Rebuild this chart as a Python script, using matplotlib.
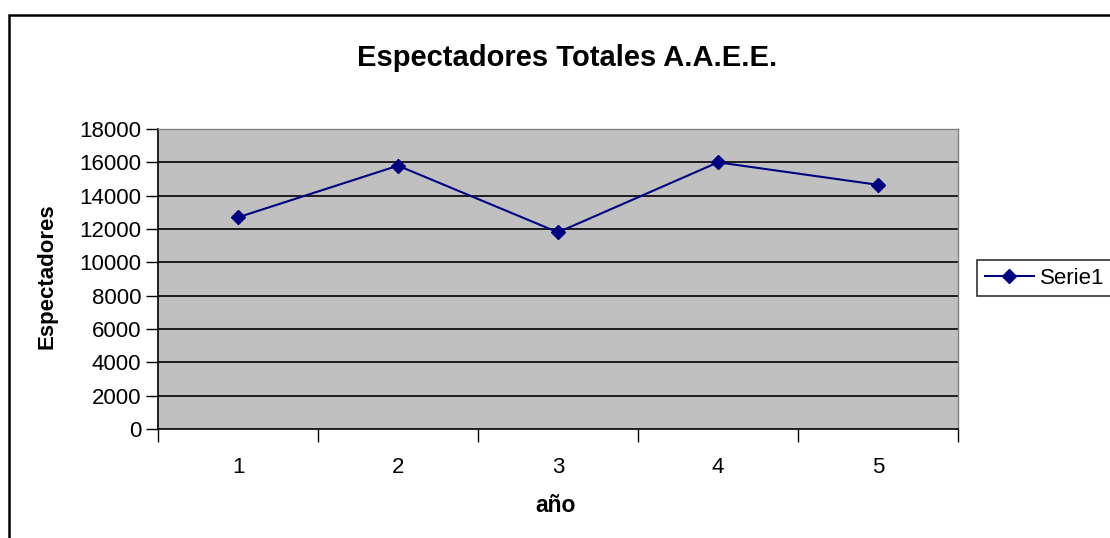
import matplotlib
matplotlib.use("Agg")
import matplotlib.pyplot as plt
from matplotlib.patches import Rectangle
from matplotlib.ticker import FixedLocator

plt.rcParams['font.family'] = ['Liberation Sans', 'DejaVu Sans']

years = [1, 2, 3, 4, 5]
spectators = [12700, 15800, 11800, 16000, 14650]
year_labels = ["1", "2", "3", "4", "5"]
y_ticks = list(range(0, 18001, 2000))
series_name = "Serie1"

W, H = 1110, 538
fig = plt.figure(figsize=(W / 100, H / 100), dpi=100)

# outer chart border
fig.patches.append(Rectangle((9 / W, -0.1), 1.2, 1 - 15 / H + 0.1, transform=fig.transFigure,
                             fill=False, edgecolor='black', linewidth=1.8, zorder=0))

ax = fig.add_axes([158 / W, 1 - 429 / H, 800 / W, 300 / H])
ax.set_facecolor('#C0C0C0')
ax.set_xlim(0.5, 5.5)
ax.set_ylim(0, 18000)
ax.set_yticks(y_ticks)
ax.set_yticklabels([str(v) for v in y_ticks])
ax.set_xticks(years)
ax.set_xticklabels(year_labels)
ax.xaxis.set_minor_locator(FixedLocator([0.5 + i for i in range(6)]))
ax.tick_params(axis='x', which='major', length=0, pad=20, labelsize=16)
ax.tick_params(axis='x', which='minor', length=9, width=1, direction='out', color='black')
ax.tick_params(axis='y', length=9, width=1, direction='out', labelsize=16, pad=3)

for v in y_ticks[1:]:
    ax.axhline(v, color='black', linewidth=1.2, zorder=1)

for s in ['top', 'right']:
    ax.spines[s].set_color('#808080')
    ax.spines[s].set_linewidth(1)
for s in ['left', 'bottom']:
    ax.spines[s].set_color('black')
    ax.spines[s].set_linewidth(1.2)

line, = ax.plot(years, spectators, color='#000080', linewidth=1.5, marker='D',
                markersize=7, markerfacecolor='#000080', markeredgecolor='#000080',
                label=series_name, zorder=3)

leg = fig.legend(handles=[line], labels=[series_name], loc='center left',
                 bbox_to_anchor=(977 / W, 1 - 278 / H), frameon=True, fancybox=False,
                 edgecolor='black', fontsize=16, handlelength=2.2, borderpad=0.35,
                 handletextpad=0.3, borderaxespad=0)
leg.get_frame().set_linewidth(1.2)

fig.text(567 / W, 1 - 58 / H, "Espectadores Totales A.A.E.E.", ha='center', va='center',
         fontsize=21, fontweight='bold')
fig.text(47 / W, 1 - 276 / H, "Espectadores", ha='center', va='center', rotation=90,
         fontsize=16, fontweight='bold')
fig.text(556 / W, 1 - 506 / H, "año", ha='center', va='center', fontsize=16.5, fontweight='bold')

fig.savefig("out.png", dpi=100)
